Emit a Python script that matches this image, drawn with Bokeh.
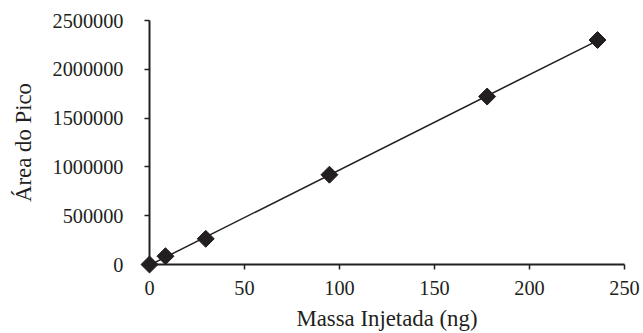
import numpy as np
from bokeh.plotting import figure
from bokeh.models import FixedTicker, BasicTickFormatter, Range1d
from bokeh.embed import file_html
from bokeh.resources import INLINE

# Data
massa = [0, 8.4, 29.6, 94.7, 177.7, 235.8]
area = [0, 85000, 263000, 920000, 1721000, 2300000]
x_ticks = [0, 50, 100, 150, 200, 250]
y_ticks = [0, 500000, 1000000, 1500000, 2000000, 2500000]
x_title = "Massa Injetada (ng)"
y_title = "Área do Pico"

# Linear trendline (least squares) spanning the data
slope, intercept = np.polyfit(massa, area, 1)
fit_x = [min(massa), max(massa)]
fit_y = [slope * v + intercept for v in fit_x]

INK = "#231f20"
FONT = "Liberation Serif"

p = figure(width=643, height=333, output_backend="svg", toolbar_location=None,
           x_range=Range1d(0, 250), y_range=Range1d(0, 2500000),
           min_border_left=149, min_border_right=19, min_border_top=20, min_border_bottom=68)
p.outline_line_color = None
p.grid.grid_line_color = None
p.background_fill_color = "white"
p.border_fill_color = "white"

p.line(fit_x, fit_y, line_color=INK, line_width=1.5)
r = p.scatter(massa, area, marker="square", angle=np.pi / 4, size=12,
              fill_color=INK, line_color=INK)
r.level = "overlay"

for ax in (p.xaxis[0], p.yaxis[0]):
    ax.axis_line_color = INK
    ax.axis_line_width = 2
    ax.major_tick_line_color = INK
    ax.major_tick_line_width = 1.5
    ax.major_tick_out = 5
    ax.major_tick_in = 0
    ax.minor_tick_line_color = None
    ax.major_label_text_font = FONT
    ax.major_label_text_font_size = "20.3px"
    ax.major_label_text_color = INK
    ax.axis_label_text_font = FONT
    ax.axis_label_text_font_size = "22.8px"
    ax.axis_label_text_font_style = "normal"
    ax.axis_label_text_color = INK
    ax.formatter = BasicTickFormatter(use_scientific=False)

p.xaxis[0].ticker = FixedTicker(ticks=x_ticks)
p.yaxis[0].ticker = FixedTicker(ticks=y_ticks)
p.xaxis[0].axis_label = x_title
p.yaxis[0].axis_label = y_title
p.xaxis[0].major_label_standoff = 11
p.xaxis[0].axis_label_standoff = 8
p.yaxis[0].major_label_standoff = 21
p.yaxis[0].axis_label_standoff = 14

open("out.html", "w").write(file_html(p, INLINE))
